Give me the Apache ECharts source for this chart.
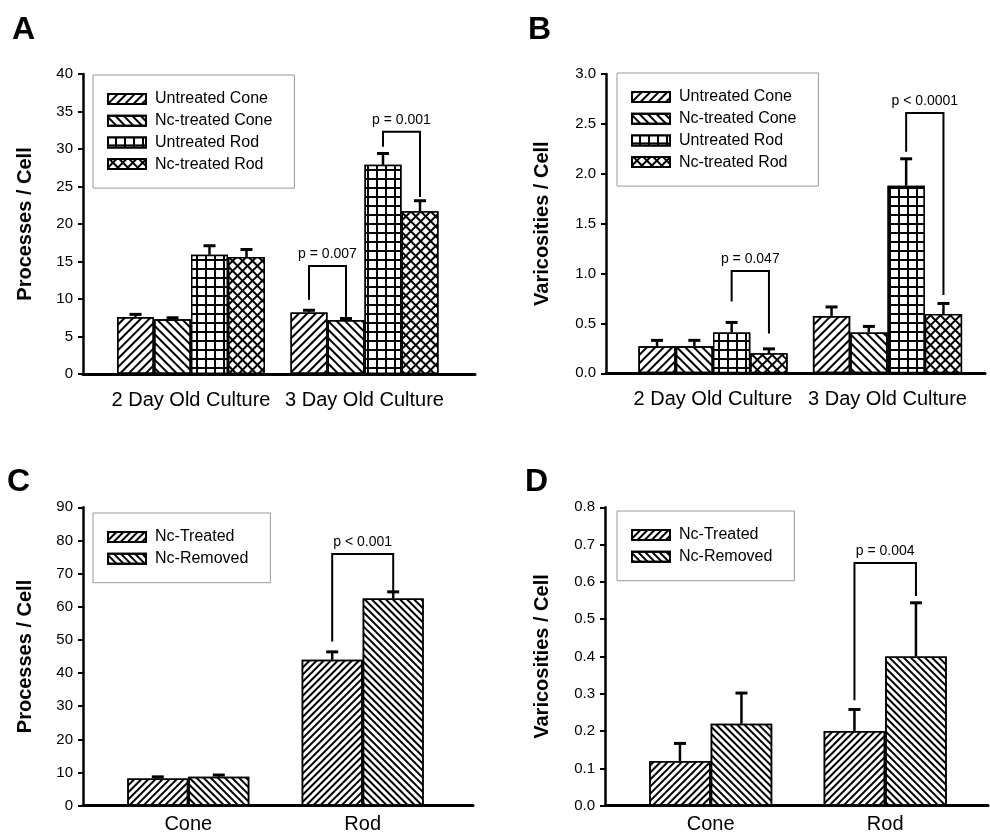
<!DOCTYPE html>
<html><head><meta charset="utf-8">
<script src="https://cdn.jsdelivr.net/npm/echarts@6/dist/echarts.min.js"></script>
<style>html,body{margin:0;padding:0;background:#fff}#c{width:990px;height:832px}</style>
</head><body><div id="c"></div>
<script>
const FONT = '"Liberation Sans", Arial, Helvetica, sans-serif';

// ---------- DATA ----------
// Panels A & B
const catsAB = ['2 Day Old Culture', '3 Day Old Culture'];
const namesAB = ['Untreated Cone', 'Nc-treated Cone', 'Untreated Rod', 'Nc-treated Rod'];
// A: Processes / Cell
const A_untreatedCone = [7.6, 8.2];
const A_ncTreatedCone = [7.3, 7.2];
const A_untreatedRod = [15.9, 27.9];
const A_ncTreatedRod = [15.6, 21.7];
const A_errUntreatedCone = [0.35, 0.3];
const A_errNcTreatedCone = [0.2, 0.2];
const A_errUntreatedRod = [1.2, 1.5];
const A_errNcTreatedRod = [1.0, 1.4];
// bracket: [category, fromSeries, toSeries, top, leftLegEnd, rightLegEnd]
const A_brackets = [[1, 0, 1, 14.4, 9.9, 7.5], [1, 2, 3, 32.3, 30.3, 23.6]];
const A_bracketLabels = ['p = 0.007', 'p = 0.001'];
const A_yTicks = [0, 40, 5];
// B: Varicosities / Cell
const B_untreatedCone = [0.27, 0.575];
const B_ncTreatedCone = [0.27, 0.41];
const B_untreatedRod = [0.41, 1.88];
const B_ncTreatedRod = [0.20, 0.595];
const B_errUntreatedCone = [0.06, 0.09];
const B_errNcTreatedCone = [0.06, 0.06];
const B_errUntreatedRod = [0.10, 0.27];
const B_errNcTreatedRod = [0.045, 0.105];
const B_brackets = [[0, 2, 3, 1.026, 0.72, 0.40], [1, 2, 3, 2.61, 2.22, 0.785]];
const B_bracketLabels = ['p = 0.047', 'p < 0.0001'];
const B_yTicks = [0, 3, 0.5];
// Panels C & D
const catsCD = ['Cone', 'Rod'];
const namesCD = ['Nc-Treated', 'Nc-Removed'];
const C_ncTreated = [8.2, 44.0];
const C_ncRemoved = [8.75, 62.5];
const C_errNcTreated = [0.5, 2.4];
const C_errNcRemoved = [0.5, 2.0];
const C_brackets = [[1, 0, 1, 75.9, 49.5, 64.0]];
const C_bracketLabels = ['p < 0.001'];
const C_yTicks = [0, 90, 10];
const D_ncTreated = [0.12, 0.20];
const D_ncRemoved = [0.22, 0.40];
const D_errNcTreated = [0.047, 0.058];
const D_errNcRemoved = [0.082, 0.144];
const D_brackets = [[1, 0, 1, 0.651, 0.283, 0.562]];
const D_bracketLabels = ['p = 0.004'];
const D_yTicks = [0, 0.8, 0.1];

// ---------- STYLES ----------
const decalFwd = {symbol: 'rect', dashArrayX: [1, 0], dashArrayY: [2, 4], rotation: -Math.PI / 4, color: '#000'};
const decalBack = {symbol: 'rect', dashArrayX: [1, 0], dashArrayY: [2, 4], rotation: Math.PI / 4, color: '#000'};
const decalGrid = {symbol: 'rect', dashArrayX: [7, 2], dashArrayY: [7, 2], rotation: 0, color: '#fff'};
const decalCross = {symbol: 'rect', dashArrayX: [5, 2], dashArrayY: [5, 2], rotation: Math.PI / 4, color: '#fff'};
const decalFwdCD = {symbol: 'rect', dashArrayX: [1, 0], dashArrayY: [2, 3], rotation: -Math.PI / 4, color: '#000'};
const decalBackCD = {symbol: 'rect', dashArrayX: [1, 0], dashArrayY: [2, 3], rotation: Math.PI / 4, color: '#000'};
const stylesAB = [
  {color: '#fff', decal: decalFwd},
  {color: '#fff', decal: decalBack},
  {color: '#000', decal: decalGrid},
  {color: '#000', decal: decalCross}
];
const stylesCD = [
  {color: '#fff', decal: decalFwdCD},
  {color: '#fff', decal: decalBackCD}
];

const panels = [
  {letter: 'A', lx: 12, ly: 14, frame: {left: 83, top: 74, width: 392, height: 300}, bars: {left: 104.25, width: 347},
   bw: 37, ticks: A_yTicks, dec: 0, yName: 'Processes / Cell', nameGap: 48, cats: catsAB, names: namesAB,
   vals: [A_untreatedCone, A_ncTreatedCone, A_untreatedRod, A_ncTreatedRod],
   errs: [A_errUntreatedCone, A_errNcTreatedCone, A_errUntreatedRod, A_errNcTreatedRod],
   styles: stylesAB, brackets: A_brackets, blabels: A_bracketLabels, legend: {left: 93, top: 75}, catMargin: 16},
  {letter: 'B', lx: 528, ly: 14, frame: {left: 606, top: 74, width: 379, height: 299.3}, bars: {left: 625.75, width: 349},
   bw: 37.3, ticks: B_yTicks, dec: 1, yName: 'Varicosities / Cell', nameGap: 54, cats: catsAB, names: namesAB,
   vals: [B_untreatedCone, B_ncTreatedCone, B_untreatedRod, B_ncTreatedRod],
   errs: [B_errUntreatedCone, B_errNcTreatedCone, B_errUntreatedRod, B_errNcTreatedRod],
   styles: stylesAB, brackets: B_brackets, blabels: B_bracketLabels, legend: {left: 617, top: 73}, catMargin: 16},
  {letter: 'C', lx: 7, ly: 466, frame: {left: 83, top: 507.3, width: 390, height: 298.4}, bars: {left: 101.1, width: 348.8},
   bw: 61, ticks: C_yTicks, dec: 0, yName: 'Processes / Cell', nameGap: 48, cats: catsCD, names: namesCD,
   vals: [C_ncTreated, C_ncRemoved], errs: [C_errNcTreated, C_errNcRemoved],
   styles: stylesCD, brackets: C_brackets, blabels: C_bracketLabels, legend: {left: 93, top: 513}, catMargin: 9},
  {letter: 'D', lx: 525, ly: 466, frame: {left: 605, top: 507.3, width: 383, height: 298.4}, bars: {left: 623.45, width: 349},
   bw: 61.5, ticks: D_yTicks, dec: 1, yName: 'Varicosities / Cell', nameGap: 53, cats: catsCD, names: namesCD,
   vals: [D_ncTreated, D_ncRemoved], errs: [D_errNcTreated, D_errNcRemoved],
   styles: stylesCD, brackets: D_brackets, blabels: D_bracketLabels, legend: {left: 617, top: 511}, catMargin: 9}
];

const option = {animation: false, backgroundColor: '#fff', title: [], grid: [], xAxis: [], yAxis: [], series: [], legend: []};

function errRender(bw, n) {
  return function (params, api) {
    const cat = api.value(0), si = api.value(1), v = api.value(2), e = api.value(3);
    const base = api.coord([cat, v]);
    const top = api.coord([cat, v + e]);
    const x = base[0] + (si - (n - 1) / 2) * bw;
    return {type: 'group', children: [
      {type: 'line', shape: {x1: x, y1: base[1], x2: x, y2: top[1]}, style: {stroke: '#000', lineWidth: 2.5}},
      {type: 'line', shape: {x1: x - 6, y1: top[1], x2: x + 6, y2: top[1]}, style: {stroke: '#000', lineWidth: 3}}
    ]};
  };
}
function bracketRender(bw, n, labels) {
  return function (params, api) {
    const cat = api.value(0), s1 = api.value(1), s2 = api.value(2);
    const c = api.coord([cat, api.value(3)]);
    const yl = api.coord([cat, api.value(4)])[1];
    const yr = api.coord([cat, api.value(5)])[1];
    const x1 = c[0] + (s1 - (n - 1) / 2) * bw, x2 = c[0] + (s2 - (n - 1) / 2) * bw;
    return {type: 'group', children: [
      {type: 'polyline', shape: {points: [[x1, yl], [x1, c[1]], [x2, c[1]], [x2, yr]]}, style: {stroke: '#000', lineWidth: 2, fill: 'none'}},
      {type: 'text', x: (x1 + x2) / 2, y: c[1] - 5, style: {text: labels[params.dataIndex], fontFamily: FONT, fontSize: 14, fill: '#000', align: 'center', verticalAlign: 'bottom'}}
    ]};
  };
}

panels.forEach((p, pi) => {
  const gF = pi * 2, gB = pi * 2 + 1;
  const [ymin, ymax, step] = p.ticks;
  option.title.push({text: p.letter, left: p.lx, top: p.ly, padding: 0,
    textStyle: {fontSize: 32, fontWeight: 'bold', fontFamily: FONT, color: '#000'}});
  option.grid.push(Object.assign({containLabel: false, outerBoundsMode: 'none'}, p.frame));
  option.grid.push({containLabel: false, outerBoundsMode: 'none', left: p.bars.left, width: p.bars.width, top: p.frame.top, height: p.frame.height});
  // frame axes
  option.xAxis.push({gridIndex: gF, type: 'value', min: 0, max: 1, axisLine: {show: true, onZero: false, lineStyle: {color: '#000', width: 3}},
    axisTick: {show: false}, axisLabel: {show: false}, splitLine: {show: false}});
  option.yAxis.push({gridIndex: gF, type: 'value', min: ymin, max: ymax, interval: step,
    name: p.yName, nameLocation: 'middle', nameGap: p.nameGap, nameRotate: 90,
    nameTextStyle: {fontFamily: FONT, fontSize: 20, fontWeight: 'bold', color: '#000'},
    axisLine: {show: true, lineStyle: {color: '#000', width: 2.5}},
    axisTick: {show: true, length: 5, lineStyle: {color: '#000', width: 2}},
    axisLabel: {color: '#000', fontFamily: FONT, fontSize: 15, margin: 10, formatter: v => v.toFixed(p.dec)},
    splitLine: {show: false}});
  // bar axes
  option.xAxis.push({gridIndex: gB, type: 'category', data: p.cats, axisLine: {show: false}, axisTick: {show: false},
    axisLabel: {color: '#000', fontFamily: FONT, fontSize: 20, margin: p.catMargin, interval: 0}, splitLine: {show: false}});
  option.yAxis.push({gridIndex: gB, type: 'value', min: ymin, max: ymax, show: false, splitLine: {show: false}});
  const n = p.vals.length;
  p.vals.forEach((vals, si) => {
    option.series.push({type: 'bar', name: p.names[si], xAxisIndex: gB, yAxisIndex: gB, data: vals,
      barWidth: p.bw, barGap: '0%',
      itemStyle: {color: p.styles[si].color, borderColor: '#000', borderWidth: 1.5, decal: p.styles[si].decal},
      emphasis: {disabled: true}, z: 2});
  });
  const errData = [];
  p.vals.forEach((vals, si) => vals.forEach((v, ci) => errData.push([ci, si, v, p.errs[si][ci]])));
  option.series.push({type: 'custom', xAxisIndex: gB, yAxisIndex: gB, data: errData, renderItem: errRender(p.bw, n), z: 3, silent: true});
  option.series.push({type: 'custom', xAxisIndex: gB, yAxisIndex: gB, data: p.brackets, renderItem: bracketRender(p.bw, n, p.blabels), z: 3, silent: true});
  option.legend.push({data: p.names, orient: 'vertical', left: p.legend.left, top: p.legend.top,
    padding: [16, 22, 16, 14], itemWidth: 38, itemHeight: 10, itemGap: 5.7,
    borderColor: '#999', borderWidth: 1, selectedMode: false, icon: 'rect',
    itemStyle: {borderColor: '#000', borderWidth: 2},
    textStyle: {fontFamily: FONT, fontSize: 16, color: '#000', lineHeight: 16, padding: [0, 0, 0, 4]}});
});

const chart = echarts.init(document.getElementById('c'), null, {renderer: 'canvas'});
chart.setOption(option);
</script>
</body></html>
